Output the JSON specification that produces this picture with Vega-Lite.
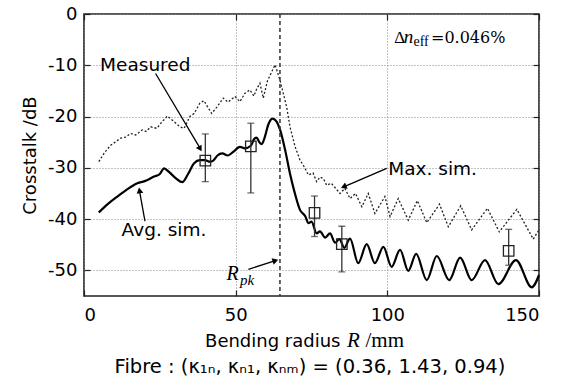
{
  "$schema": "https://vega.github.io/schema/vega-lite/v6.json",
  "width": 455,
  "height": 282,
  "autosize": {"type": "none"},
  "padding": {"left": 84, "top": 14, "right": 35, "bottom": 87},
  "background": "white",
  "data": {"values": [{}]},
  "resolve": {"axis": {"x": "independent", "y": "independent"}},
  "config": {
    "view": {"stroke": "#222", "strokeWidth": 1.6},
    "axis": {"labelFont": "DejaVu Sans", "labelFontSize": 18, "labelColor": "black", "titleFont": "DejaVu Sans", "titleFontSize": 18, "titleFontWeight": "normal", "titleColor": "black", "domain": false, "grid": true, "gridDash": [1, 2], "gridColor": "#888", "gridWidth": 1, "tickColor": "#222", "tickSize": -6, "tickWidth": 1.2}
  },
  "datasets": {
    "avg": [
      {"x": 4.9, "y": -38.7}, {"x": 8, "y": -37.0}, {"x": 11, "y": -35.6}, {"x": 14, "y": -34.3}, {"x": 17.6, "y": -33.0}, {"x": 20, "y": -32.6}, {"x": 23.1, "y": -31.7}, {"x": 25, "y": -31.2}, {"x": 26.4, "y": -30.1}, {"x": 28, "y": -30.8}, {"x": 30, "y": -31.9}, {"x": 32.4, "y": -32.8}, {"x": 34.3, "y": -31.2}, {"x": 36.3, "y": -29.1}, {"x": 38.2, "y": -28.5}, {"x": 39.9, "y": -28.5}, {"x": 41.5, "y": -28.8}, {"x": 42.6, "y": -28.6}, {"x": 44, "y": -27.6}, {"x": 45.6, "y": -27.2}, {"x": 47.4, "y": -27.6}, {"x": 49.2, "y": -26.9}, {"x": 51.4, "y": -25.9}, {"x": 53, "y": -26.2}, {"x": 55, "y": -25.7}, {"x": 56.2, "y": -24.3}, {"x": 56.9, "y": -24.1}, {"x": 57.8, "y": -25.0}, {"x": 58.6, "y": -25.4}, {"x": 59.6, "y": -24.0}, {"x": 60.8, "y": -21.5}, {"x": 62.2, "y": -20.4}, {"x": 63.5, "y": -21.0}, {"x": 64.6, "y": -22.5}, {"x": 66.3, "y": -26.5}, {"x": 67.9, "y": -31.1}, {"x": 69.3, "y": -34.5}, {"x": 71.2, "y": -38.2}, {"x": 72.9, "y": -39.4}, {"x": 74, "y": -40.8}, {"x": 75, "y": -40.5}, {"x": 76.7, "y": -42.8}, {"x": 77.8, "y": -42.4}, {"x": 79.5, "y": -43.6}, {"x": 81.1, "y": -42.8}, {"x": 82.8, "y": -44.6}, {"x": 84.2, "y": -43.9}, {"x": 85.8, "y": -45.6}, {"x": 87.7, "y": -43.8}, {"x": 90.4, "y": -48.6}, {"x": 93.2, "y": -44.9}, {"x": 95.9, "y": -48.6}, {"x": 98.7, "y": -45.4}, {"x": 101.4, "y": -49.3}, {"x": 104.2, "y": -46.0}, {"x": 106.9, "y": -50.1}, {"x": 109.5, "y": -46.8}, {"x": 113, "y": -51.9}, {"x": 116.3, "y": -47.2}, {"x": 120.4, "y": -51.9}, {"x": 124, "y": -47.5}, {"x": 127.8, "y": -51.9}, {"x": 132.2, "y": -48.0}, {"x": 136.6, "y": -52.7}, {"x": 142.4, "y": -48.0}, {"x": 147.6, "y": -53.3}, {"x": 150, "y": -50.9}
    ],
    "maxsim": [
      {"x": 4.9, "y": -28.8}, {"x": 6.8, "y": -27.0}, {"x": 8.8, "y": -25.6}, {"x": 10.5, "y": -24.9}, {"x": 12.1, "y": -24.2}, {"x": 13.8, "y": -24.0}, {"x": 15.4, "y": -23.3}, {"x": 17, "y": -23.6}, {"x": 19.2, "y": -22.6}, {"x": 20.5, "y": -22.9}, {"x": 22, "y": -22.0}, {"x": 24, "y": -22.3}, {"x": 25.5, "y": -21.2}, {"x": 27.5, "y": -19.9}, {"x": 29.7, "y": -21.0}, {"x": 31.6, "y": -22.0}, {"x": 33, "y": -22.3}, {"x": 34.9, "y": -20.0}, {"x": 36.3, "y": -19.4}, {"x": 38.2, "y": -17.4}, {"x": 39.5, "y": -16.9}, {"x": 42.1, "y": -19.4}, {"x": 44, "y": -18.0}, {"x": 45.9, "y": -16.4}, {"x": 47.5, "y": -17.2}, {"x": 49.8, "y": -16.1}, {"x": 51.4, "y": -17.1}, {"x": 53, "y": -15.5}, {"x": 54.7, "y": -14.8}, {"x": 56, "y": -16.0}, {"x": 57, "y": -14.5}, {"x": 58, "y": -13.5}, {"x": 59.1, "y": -16.4}, {"x": 60.5, "y": -13.0}, {"x": 63, "y": -9.9}, {"x": 64.6, "y": -12.9}, {"x": 66.8, "y": -18.1}, {"x": 67.9, "y": -22.0}, {"x": 69.6, "y": -25.9}, {"x": 71.2, "y": -28.5}, {"x": 72.3, "y": -29.5}, {"x": 74, "y": -31.4}, {"x": 75.5, "y": -31.0}, {"x": 76.7, "y": -32.7}, {"x": 77.8, "y": -31.8}, {"x": 78.9, "y": -32.1}, {"x": 80, "y": -33.4}, {"x": 81.5, "y": -33.0}, {"x": 84.4, "y": -35.0}, {"x": 86, "y": -34.0}, {"x": 87.7, "y": -36.0}, {"x": 89.5, "y": -35.0}, {"x": 91.6, "y": -37.6}, {"x": 93.7, "y": -35.0}, {"x": 95.9, "y": -38.9}, {"x": 99.2, "y": -35.6}, {"x": 100.9, "y": -39.5}, {"x": 103.6, "y": -36.0}, {"x": 106.9, "y": -40.2}, {"x": 109.9, "y": -36.4}, {"x": 113, "y": -40.7}, {"x": 117.2, "y": -37.1}, {"x": 120.1, "y": -41.5}, {"x": 124.2, "y": -37.4}, {"x": 127.8, "y": -42.1}, {"x": 133, "y": -37.9}, {"x": 136.9, "y": -42.5}, {"x": 142.7, "y": -38.1}, {"x": 148.1, "y": -43.9}, {"x": 150, "y": -42.1}
    ],
    "meas": [
      {"x": 40, "y": -28.6, "lo": -32.7, "hi": -23.4},
      {"x": 55, "y": -25.8, "lo": -34.9, "hi": -21.3},
      {"x": 76, "y": -38.8, "lo": -43.4, "hi": -35.5},
      {"x": 85, "y": -44.9, "lo": -50.3, "hi": -41.4},
      {"x": 140, "y": -46.2, "lo": -49.0, "hi": -42.0}
    ]
  },
  "layer": [
    {
      "data": {"name": "avg"},
      "mark": {"type": "line", "color": "black", "strokeWidth": 2.2, "interpolate": "monotone"},
      "encoding": {
        "x": {"field": "x", "type": "quantitative", "scale": {"domain": [0, 150], "nice": false, "zero": false}, "axis": {"values": [0, 50, 100, 150], "title": null, "labelPadding": 16}},
        "y": {"field": "y", "type": "quantitative", "scale": {"domain": [-55, 0], "nice": false, "zero": false}, "axis": {"values": [-50, -40, -30, -20, -10, 0], "title": "Crosstalk /dB", "labelExpr": "'' + datum.value", "labelPadding": 13, "titlePadding": 8}}
      }
    },
    {
      "data": {"name": "maxsim"},
      "mark": {"type": "line", "color": "#222", "strokeWidth": 1.3, "strokeDash": [2, 2]},
      "encoding": {
        "x": {"field": "x", "type": "quantitative", "scale": {"domain": [0, 150], "nice": false, "zero": false}, "axis": {"orient": "top", "values": [0, 50, 100, 150], "title": null, "labels": false, "grid": false}},
        "y": {"field": "y", "type": "quantitative", "scale": {"domain": [-55, 0], "nice": false, "zero": false}, "axis": {"orient": "right", "values": [-50, -40, -30, -20, -10, 0], "title": null, "labels": false, "grid": false}}
      }
    },
    {
      "mark": {"type": "rule", "color": "#333", "strokeWidth": 1.5, "strokeDash": [4, 3]},
      "encoding": {"x": {"datum": 64.6, "type": "quantitative", "scale": {"domain": [0, 150], "nice": false, "zero": false}, "axis": null}}
    },
    {
      "data": {"name": "meas"},
      "mark": {"type": "rule", "color": "#333", "strokeWidth": 1.3},
      "encoding": {
        "x": {"field": "x", "type": "quantitative", "scale": {"domain": [0, 150], "nice": false, "zero": false}, "axis": null},
        "y": {"field": "lo", "type": "quantitative", "scale": {"domain": [-55, 0], "nice": false, "zero": false}, "axis": null},
        "y2": {"field": "hi"}
      }
    },
    {
      "data": {"name": "meas"},
      "mark": {"type": "tick", "orient": "horizontal", "color": "#333", "size": 7, "thickness": 1.3},
      "encoding": {
        "x": {"field": "x", "type": "quantitative", "scale": {"domain": [0, 150], "nice": false, "zero": false}, "axis": null},
        "y": {"field": "lo", "type": "quantitative", "scale": {"domain": [-55, 0], "nice": false, "zero": false}, "axis": null}
      }
    },
    {
      "data": {"name": "meas"},
      "mark": {"type": "tick", "orient": "horizontal", "color": "#333", "size": 7, "thickness": 1.3},
      "encoding": {
        "x": {"field": "x", "type": "quantitative", "scale": {"domain": [0, 150], "nice": false, "zero": false}, "axis": null},
        "y": {"field": "hi", "type": "quantitative", "scale": {"domain": [-55, 0], "nice": false, "zero": false}, "axis": null}
      }
    },
    {
      "data": {"name": "meas"},
      "mark": {"type": "point", "shape": "square", "filled": false, "color": "#222", "size": 110, "strokeWidth": 1.3, "opacity": 1},
      "encoding": {
        "x": {"field": "x", "type": "quantitative", "scale": {"domain": [0, 150], "nice": false, "zero": false}, "axis": null},
        "y": {"field": "y", "type": "quantitative", "scale": {"domain": [-55, 0], "nice": false, "zero": false}, "axis": null}
      }
    },
    {
      "mark": {"type": "rule", "color": "black", "strokeWidth": 1.3},
      "encoding": {
        "x": {"datum": 23.6, "type": "quantitative", "scale": {"domain": [0, 150], "nice": false, "zero": false}, "axis": null},
        "y": {"datum": -11.6, "type": "quantitative", "scale": {"domain": [-55, 0], "nice": false, "zero": false}, "axis": null},
        "x2": {"datum": 38.3}, "y2": {"datum": -26.2}
      }
    },
    {
      "mark": {"type": "point", "shape": "triangle-up", "filled": true, "color": "black", "size": 45, "angle": 149, "opacity": 1},
      "encoding": {
        "x": {"datum": 38.3, "type": "quantitative", "scale": {"domain": [0, 150], "nice": false, "zero": false}, "axis": null},
        "y": {"datum": -26.3, "type": "quantitative", "scale": {"domain": [-55, 0], "nice": false, "zero": false}, "axis": null}
      }
    },
    {
      "mark": {"type": "rule", "color": "black", "strokeWidth": 1.3},
      "encoding": {
        "x": {"datum": 20.1, "type": "quantitative", "scale": {"domain": [0, 150], "nice": false, "zero": false}, "axis": null},
        "y": {"datum": -40.4, "type": "quantitative", "scale": {"domain": [-55, 0], "nice": false, "zero": false}, "axis": null},
        "x2": {"datum": 18.3}, "y2": {"datum": -34.5}
      }
    },
    {
      "mark": {"type": "point", "shape": "triangle-up", "filled": true, "color": "black", "size": 45, "angle": -10, "opacity": 1},
      "encoding": {
        "x": {"datum": 18.3, "type": "quantitative", "scale": {"domain": [0, 150], "nice": false, "zero": false}, "axis": null},
        "y": {"datum": -34.4, "type": "quantitative", "scale": {"domain": [-55, 0], "nice": false, "zero": false}, "axis": null}
      }
    },
    {
      "mark": {"type": "rule", "color": "black", "strokeWidth": 1.3},
      "encoding": {
        "x": {"datum": 99.8, "type": "quantitative", "scale": {"domain": [0, 150], "nice": false, "zero": false}, "axis": null},
        "y": {"datum": -30.1, "type": "quantitative", "scale": {"domain": [-55, 0], "nice": false, "zero": false}, "axis": null},
        "x2": {"datum": 85.6}, "y2": {"datum": -33.7}
      }
    },
    {
      "mark": {"type": "point", "shape": "triangle-up", "filled": true, "color": "black", "size": 45, "angle": -113, "opacity": 1},
      "encoding": {
        "x": {"datum": 85.6, "type": "quantitative", "scale": {"domain": [0, 150], "nice": false, "zero": false}, "axis": null},
        "y": {"datum": -33.7, "type": "quantitative", "scale": {"domain": [-55, 0], "nice": false, "zero": false}, "axis": null}
      }
    },
    {
      "mark": {"type": "rule", "color": "black", "strokeWidth": 1.3},
      "encoding": {
        "x": {"datum": 54.2, "type": "quantitative", "scale": {"domain": [0, 150], "nice": false, "zero": false}, "axis": null},
        "y": {"datum": -49.8, "type": "quantitative", "scale": {"domain": [-55, 0], "nice": false, "zero": false}, "axis": null},
        "x2": {"datum": 63.1}, "y2": {"datum": -48.1}
      }
    },
    {
      "mark": {"type": "point", "shape": "triangle-up", "filled": true, "color": "black", "size": 45, "angle": 72, "opacity": 1},
      "encoding": {
        "x": {"datum": 63.1, "type": "quantitative", "scale": {"domain": [0, 150], "nice": false, "zero": false}, "axis": null},
        "y": {"datum": -48.1, "type": "quantitative", "scale": {"domain": [-55, 0], "nice": false, "zero": false}, "axis": null}
      }
    },
    {
      "mark": {"type": "text", "text": "Measured", "align": "left", "baseline": "alphabetic", "font": "DejaVu Sans", "fontSize": 18.5, "color": "black"},
      "encoding": {
        "x": {"datum": 5.3, "type": "quantitative", "scale": {"domain": [0, 150], "nice": false, "zero": false}, "axis": null},
        "y": {"datum": -11.06, "type": "quantitative", "scale": {"domain": [-55, 0], "nice": false, "zero": false}, "axis": null}
      }
    },
    {
      "mark": {"type": "text", "text": "Avg. sim.", "align": "left", "baseline": "alphabetic", "font": "DejaVu Sans", "fontSize": 18.5, "color": "black"},
      "encoding": {
        "x": {"datum": 12.4, "type": "quantitative", "scale": {"domain": [0, 150], "nice": false, "zero": false}, "axis": null},
        "y": {"datum": -43.3, "type": "quantitative", "scale": {"domain": [-55, 0], "nice": false, "zero": false}, "axis": null}
      }
    },
    {
      "mark": {"type": "text", "text": "Max. sim.", "align": "left", "baseline": "alphabetic", "font": "DejaVu Sans", "fontSize": 18.5, "color": "black"},
      "encoding": {
        "x": {"datum": 100.3, "type": "quantitative", "scale": {"domain": [0, 150], "nice": false, "zero": false}, "axis": null},
        "y": {"datum": -31.4, "type": "quantitative", "scale": {"domain": [-55, 0], "nice": false, "zero": false}, "axis": null}
      }
    },
    {
      "mark": {"type": "text", "text": "R", "align": "left", "baseline": "alphabetic", "font": "Liberation Serif", "fontStyle": "italic", "fontSize": 20, "color": "black"},
      "encoding": {
        "x": {"datum": 47.0, "type": "quantitative", "scale": {"domain": [0, 150], "nice": false, "zero": false}, "axis": null},
        "y": {"datum": -51.9, "type": "quantitative", "scale": {"domain": [-55, 0], "nice": false, "zero": false}, "axis": null}
      }
    },
    {
      "mark": {"type": "text", "text": "pk", "align": "left", "baseline": "alphabetic", "font": "Liberation Serif", "fontStyle": "italic", "fontSize": 15, "color": "black"},
      "encoding": {
        "x": {"datum": 51.4, "type": "quantitative", "scale": {"domain": [0, 150], "nice": false, "zero": false}, "axis": null},
        "y": {"datum": -52.9, "type": "quantitative", "scale": {"domain": [-55, 0], "nice": false, "zero": false}, "axis": null}
      }
    },
    {
      "mark": {"type": "text", "text": "Δ", "align": "left", "baseline": "alphabetic", "font": "Liberation Serif", "fontSize": 17, "color": "black"},
      "encoding": {
        "x": {"datum": 102.3, "type": "quantitative", "scale": {"domain": [0, 150], "nice": false, "zero": false}, "axis": null},
        "y": {"datum": -5.6, "type": "quantitative", "scale": {"domain": [-55, 0], "nice": false, "zero": false}, "axis": null}
      }
    },
    {
      "mark": {"type": "text", "text": "n", "align": "left", "baseline": "alphabetic", "font": "Liberation Serif", "fontStyle": "italic", "fontSize": 19, "color": "black"},
      "encoding": {
        "x": {"datum": 105.4, "type": "quantitative", "scale": {"domain": [0, 150], "nice": false, "zero": false}, "axis": null},
        "y": {"datum": -5.6, "type": "quantitative", "scale": {"domain": [-55, 0], "nice": false, "zero": false}, "axis": null}
      }
    },
    {
      "mark": {"type": "text", "text": "eff", "align": "left", "baseline": "alphabetic", "font": "Liberation Serif", "fontSize": 14, "color": "black"},
      "encoding": {
        "x": {"datum": 108.6, "type": "quantitative", "scale": {"domain": [0, 150], "nice": false, "zero": false}, "axis": null},
        "y": {"datum": -6.3, "type": "quantitative", "scale": {"domain": [-55, 0], "nice": false, "zero": false}, "axis": null}
      }
    },
    {
      "mark": {"type": "text", "text": "=0.046%", "align": "left", "baseline": "alphabetic", "font": "DejaVu Serif", "fontSize": 16, "color": "black"},
      "encoding": {
        "x": {"datum": 114.4, "type": "quantitative", "scale": {"domain": [0, 150], "nice": false, "zero": false}, "axis": null},
        "y": {"datum": -5.6, "type": "quantitative", "scale": {"domain": [-55, 0], "nice": false, "zero": false}, "axis": null}
      }
    },
    {
      "mark": {"type": "text", "text": "Bending radius", "align": "left", "baseline": "alphabetic", "font": "DejaVu Sans", "fontSize": 18, "color": "black"},
      "encoding": {
        "x": {"datum": 39.9, "type": "quantitative", "scale": {"domain": [0, 150], "nice": false, "zero": false}, "axis": null},
        "y": {"datum": -64.95, "type": "quantitative", "scale": {"domain": [-55, 0], "nice": false, "zero": false}, "axis": null}
      }
    },
    {
      "mark": {"type": "text", "text": "R", "align": "left", "baseline": "alphabetic", "font": "Liberation Serif", "fontStyle": "italic", "fontSize": 21, "color": "black"},
      "encoding": {
        "x": {"datum": 86.7, "type": "quantitative", "scale": {"domain": [0, 150], "nice": false, "zero": false}, "axis": null},
        "y": {"datum": -64.95, "type": "quantitative", "scale": {"domain": [-55, 0], "nice": false, "zero": false}, "axis": null}
      }
    },
    {
      "mark": {"type": "text", "text": "/mm", "align": "left", "baseline": "alphabetic", "font": "Liberation Serif", "fontSize": 21, "color": "black"},
      "encoding": {
        "x": {"datum": 92.8, "type": "quantitative", "scale": {"domain": [0, 150], "nice": false, "zero": false}, "axis": null},
        "y": {"datum": -64.95, "type": "quantitative", "scale": {"domain": [-55, 0], "nice": false, "zero": false}, "axis": null}
      }
    },
    {
      "mark": {"type": "text", "text": "Fibre : (κ₁ₙ, κₙ₁, κₙₘ) = (0.36, 1.43, 0.94)", "align": "center", "baseline": "alphabetic", "font": "DejaVu Sans", "fontSize": 19.5, "color": "black"},
      "encoding": {
        "x": {"datum": 74.5, "type": "quantitative", "scale": {"domain": [0, 150], "nice": false, "zero": false}, "axis": null},
        "y": {"datum": -70.0, "type": "quantitative", "scale": {"domain": [-55, 0], "nice": false, "zero": false}, "axis": null}
      }
    }
  ]
}
